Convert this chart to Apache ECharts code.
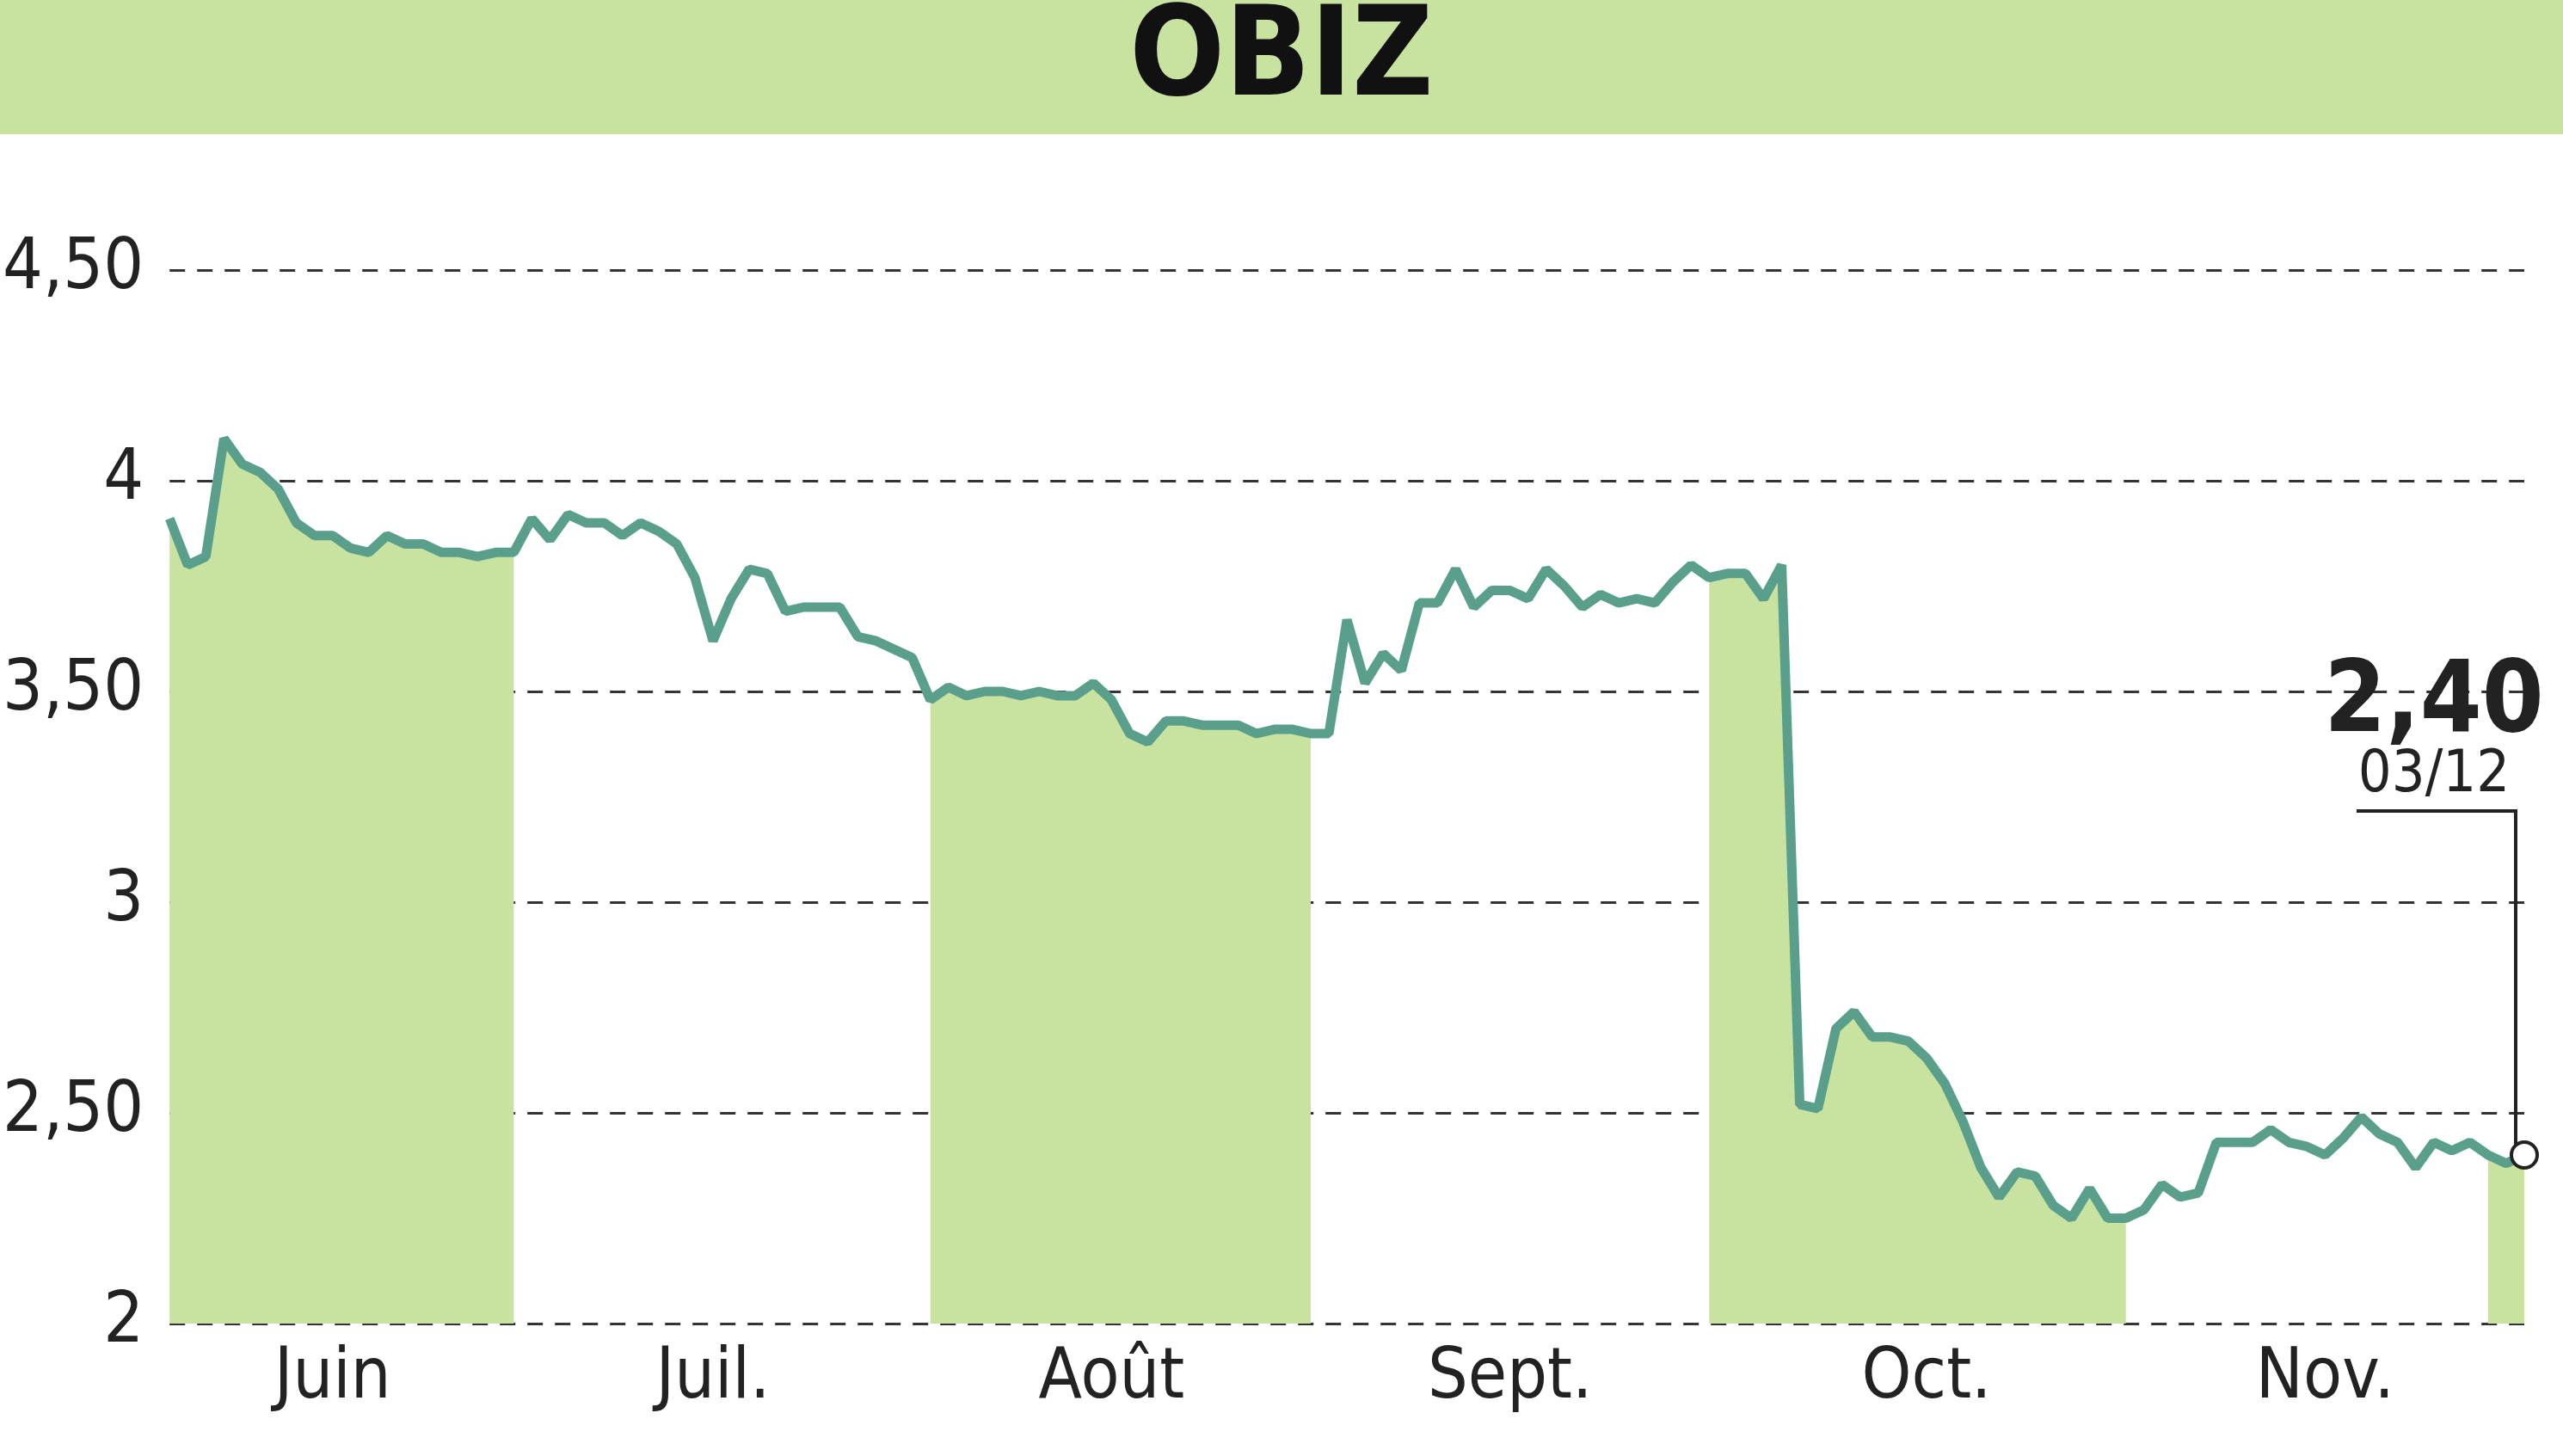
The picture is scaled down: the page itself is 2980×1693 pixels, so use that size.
<!DOCTYPE html>
<html><head><meta charset="utf-8">
<script src="https://cdn.jsdelivr.net/npm/echarts@6/dist/echarts.min.js"></script>
<style>html,body{margin:0;padding:0;background:#fff}#c{width:2980px;height:1693px}</style>
</head><body><div id="c"></div>
<script>
// cours de clôture, du 1er juin au 03/12
var prices = [3.91,3.80,3.82,4.10,4.04,4.02,3.98,3.90,3.87,3.87,3.84,3.83,3.87,3.85,3.85,3.83,3.83,3.82,3.83,3.83,
  3.91,3.86,3.92,3.90,3.90,3.87,3.90,3.88,3.85,3.77,3.62,3.72,3.79,3.78,3.69,3.70,3.70,3.70,3.63,3.62,3.60,3.58,3.48,
  3.51,3.49,3.50,3.50,3.49,3.50,3.49,3.49,3.52,3.48,3.40,3.38,3.43,3.43,3.42,3.42,3.42,3.40,3.41,3.41,3.40,3.40,
  3.67,3.52,3.59,3.55,3.71,3.71,3.79,3.70,3.74,3.74,3.72,3.79,3.75,3.70,3.73,3.71,3.72,3.71,3.76,3.80,3.77,3.78,
  3.78,3.72,3.80,2.52,2.51,2.70,2.74,2.68,2.68,2.67,2.63,2.57,2.48,2.37,2.30,2.36,2.35,2.28,2.25,2.32,2.25,2.25,
  2.27,2.33,2.30,2.31,2.43,2.43,2.43,2.46,2.43,2.42,2.40,2.44,2.49,2.45,2.43,2.37,2.43,2.41,2.43,2.40,2.38,2.40];
var monthLabels = {9:'Juin', 30:'Juil.', 52:'Août', 74:'Sept.', 97:'Oct.', 119:'Nov.'};
var shadedRanges = [[0,19],[42,63],[85,108],[128,131]];
var lastLabel = '2,40', lastDate = '03/12';

var cats = prices.map(function(v,i){ return monthLabels[i] || ''; });
var shaded = prices.map(function(v,i){
  return shadedRanges.some(function(r){ return i>=r[0] && i<=r[1]; }) ? v : '-';
});
var font = 'DejaVu Sans Condensed';
var chart = echarts.init(document.getElementById('c'));
chart.setOption({
  animation:false,
  grid:{left:190,right:45,top:314,bottom:154},
  xAxis:{type:'category',data:cats,boundaryGap:false,
    axisLine:{show:false},axisTick:{show:false},
    axisLabel:{interval:0,color:'#222',fontFamily:font,fontSize:82,margin:24}},
  yAxis:{type:'value',min:2,max:4.5,interval:0.5,
    axisLabel:{color:'#222',fontFamily:font,fontSize:82,margin:30,
      formatter:function(v){ return (v%1===0 ? String(v) : v.toFixed(2)).replace('.',','); }},
    splitLine:{lineStyle:{color:'#333',type:[18,14],width:3}}},
  series:[
    {type:'line',data:shaded,symbol:'none',lineStyle:{width:0},areaStyle:{color:'#c8e2a0',opacity:1},z:1},
    {type:'line',data:prices,symbol:'none',lineStyle:{color:'#5a9e8c',width:11},z:3,
     markPoint:{symbol:'circle',symbolSize:30,itemStyle:{color:'#fff',borderColor:'#222',borderWidth:4},
       label:{show:false},data:[{coord:[prices.length-1,prices[prices.length-1]]}]}}
  ]
});
var p = chart.convertToPixel({xAxisIndex:0,yAxisIndex:0},[prices.length-1,prices[prices.length-1]]);
chart.setOption({graphic:[
  {type:'rect',shape:{x:0,y:0,width:2980,height:156},style:{fill:'#c8e2a0'},z:0},
  {type:'text',left:'center',top:0,style:{text:'OBIZ',font:'bold 145px '+font,fill:'#111'}},
  {type:'text',x:p[0]-105,y:p[1]-580,style:{text:lastLabel,font:'bold 115px '+font,fill:'#222',textAlign:'center'}},
  {type:'text',x:p[0]-105,y:p[1]-475,style:{text:lastDate,font:'68px '+font,fill:'#222',textAlign:'center'}},
  {type:'polyline',shape:{points:[[p[0]-195,p[1]-400],[p[0]-10,p[1]-400],[p[0]-10,p[1]-12]]},
   style:{stroke:'#222',lineWidth:4,fill:null},z:10}
]});
</script></body></html>
